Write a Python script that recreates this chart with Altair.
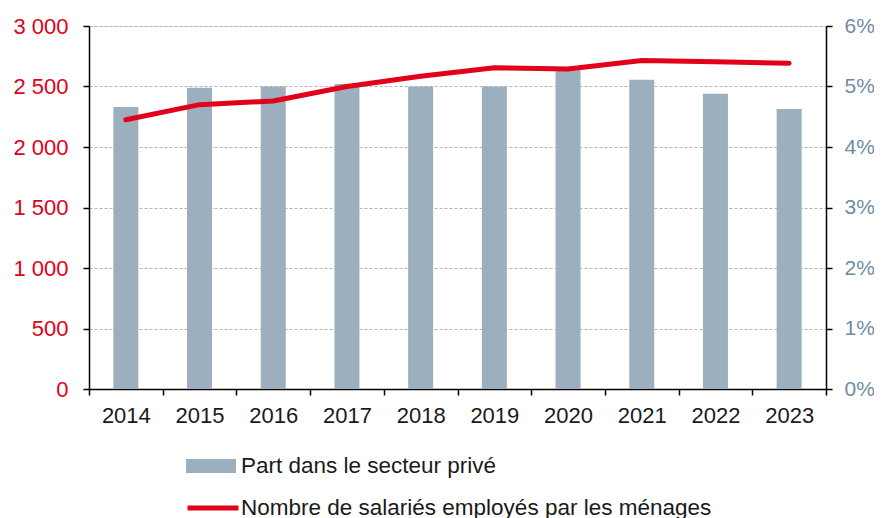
import altair as alt
import pandas as pd

years = ["2014", "2015", "2016", "2017", "2018", "2019", "2020", "2021", "2022", "2023"]
part_prive = [4.66, 4.98, 5.00, 5.04, 5.00, 5.00, 5.27, 5.11, 4.88, 4.63]
nombre_salaries = [2225, 2350, 2380, 2500, 2585, 2655, 2645, 2715, 2705, 2692]

bar_label = "Part dans le secteur privé"
line_label = "Nombre de salariés employés par les ménages"

df = pd.DataFrame({
    "annee": years,
    "part": part_prive,
    "nombre": nombre_salaries,
    "s_bar": [bar_label] * len(years),
    "s_line": [line_label] * len(years),
})

FONT = "Liberation Sans"
RED = "#e2001a"
BAR = "#9cafbf"
BLUEGREY = "#6f8ca2"
FS = 22
LFS = 22.5

x_enc = alt.X(
    "annee:N",
    title=None,
    scale=alt.Scale(paddingInner=0, paddingOuter=0),
    axis=alt.Axis(
        labelAngle=0, tickBand="extent", domainColor="black", tickColor="black",
        tickSize=6, tickWidth=1.5, domainWidth=1.5, labelPadding=10, labelFontSize=FS,
        labelColor="#1a1a1a", labelFont=FONT, grid=False,
    ),
)

bars = alt.Chart(df).mark_bar(width=25).encode(
    x=x_enc,
    y=alt.Y(
        "part:Q", title=None,
        scale=alt.Scale(domain=[0, 6], nice=False),
        axis=alt.Axis(
            orient="right", values=[0, 1, 2, 3, 4, 5, 6], labelExpr="datum.value + '%'",
            grid=False, domainColor="black", tickColor="black", tickSize=6,
            tickWidth=1.5, domainWidth=1.5, labelPadding=12, labelFontSize=21,
            labelColor=BLUEGREY, labelFont=FONT,
        ),
    ),
    fill=alt.Fill(
        "s_bar:N", scale=alt.Scale(range=[BAR]),
        legend=alt.Legend(
            title=None, orient="none", legendX=97, legendY=415, padding=0,
            symbolType="M-1,-0.28L1,-0.28L1,0.28L-1,0.28Z", symbolSize=2500,
            symbolStrokeWidth=0, labelFontSize=LFS, labelFont=FONT,
            labelColor="#1a1a1a", labelOffset=5, labelLimit=700,
        ),
    ),
)

line = alt.Chart(df).mark_line(strokeWidth=5, strokeCap="round").encode(
    x=x_enc,
    y=alt.Y(
        "nombre:Q", title=None,
        scale=alt.Scale(domain=[0, 3000], nice=False),
        axis=alt.Axis(
            orient="left", values=[0, 500, 1000, 1500, 2000, 2500, 3000],
            labelExpr="replace(format(datum.value, ','), ',', ' ')",
            grid=True, gridColor="#b4b4b4", gridDash=[3, 2], gridWidth=1,
            domainColor="black", tickColor="black", tickSize=6,
            tickWidth=1.5, domainWidth=1.5, labelPadding=15, labelFontSize=FS,
            labelColor=RED, labelFont=FONT,
        ),
    ),
    stroke=alt.Stroke(
        "s_line:N", scale=alt.Scale(range=[RED]),
        legend=alt.Legend(
            title=None, orient="none", legendX=96, legendY=454, padding=0,
            symbolType="stroke", symbolSize=2600, symbolStrokeWidth=5,
            labelFontSize=LFS, labelFont=FONT, labelColor="#1a1a1a",
            labelOffset=0, labelLimit=700,
        ),
    ),
)

chart = (
    alt.layer(bars, line)
    .resolve_scale(y="independent")
    .properties(
        width=737, height=363,
        autosize=alt.AutoSizeParams(type="none"),
        padding={"left": 81, "top": 18, "right": 48, "bottom": 129},
    )
    .configure_view(stroke=None)
    .configure(font=FONT)
)

chart.save("out.html", embed_options={"renderer": "svg", "actions": False})
